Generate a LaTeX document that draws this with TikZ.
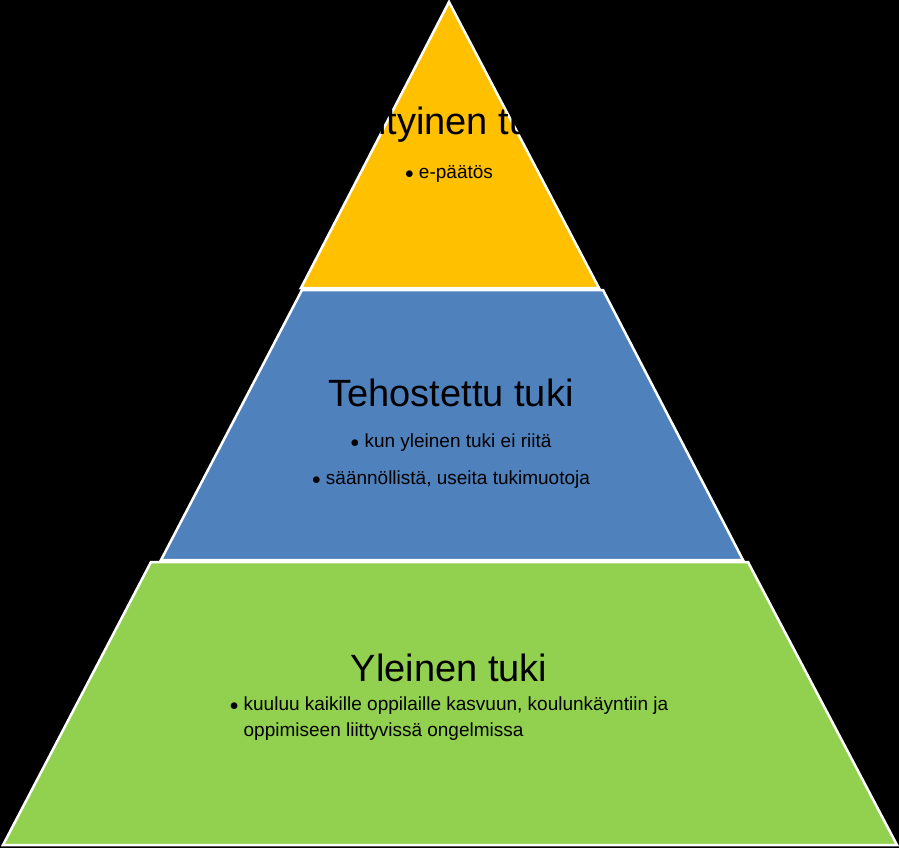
\documentclass[tikz,border=0pt]{standalone}
\usepackage{fontspec}
\setmainfont{Liberation Sans}
\usetikzlibrary{positioning}
\definecolor{orangetop}{HTML}{FFC000}
\definecolor{bluemid}{HTML}{4F81BD}
\definecolor{greenbase}{HTML}{92D050}
\tikzset{
  layer/.style={draw=white, line width=2.5pt, line join=miter},
  title/.style={font=\fontsize{38}{40}\selectfont, text=black},
  bullet/.style={font=\fontsize{19}{26}\selectfont, text=black, align=left}
}
\begin{document}
\begin{tikzpicture}[x=1pt,y=-1pt]
  \fill[black] (0,0) rectangle (899,848);
  \useasboundingbox (0,0) rectangle (899,848);
  % Base layer
  \draw[layer, fill=greenbase] (151,562) -- (748,562) -- (897,845) -- (3,845) -- cycle;
  \node[title] (yleinen) at (449,668) {Yleinen tuki};
  \node[bullet, below=8pt of yleinen] (yleinenb) {$\bullet$ kuuluu kaikille oppilaille kasvuun, koulunkäyntiin ja\\ \phantom{$\bullet$} oppimiseen liittyvissä ongelmissa};
  % Middle layer
  \draw[layer, fill=bluemid] (302,290) -- (603,290) -- (743,560) -- (161,560) -- cycle;
  \node[title] (tehostettu) at (451,393) {Tehostettu tuki};
  \node[bullet] (teha) at (451,443) {$\bullet$ kun yleinen tuki ei riitä};
  \node[bullet] (tehb) at (451,480) {$\bullet$ säännöllistä, useita tukimuotoja};
  % Top layer
  \draw[layer, fill=orangetop] (449,2) -- (599,288) -- (301,288) -- cycle;
  \node[title] (erityinen) at (449,125) {Erityinen tuki};
  \node[bullet] (erityinenb) at (449,174) {$\bullet$ e-päätös};
\end{tikzpicture}
\end{document}
